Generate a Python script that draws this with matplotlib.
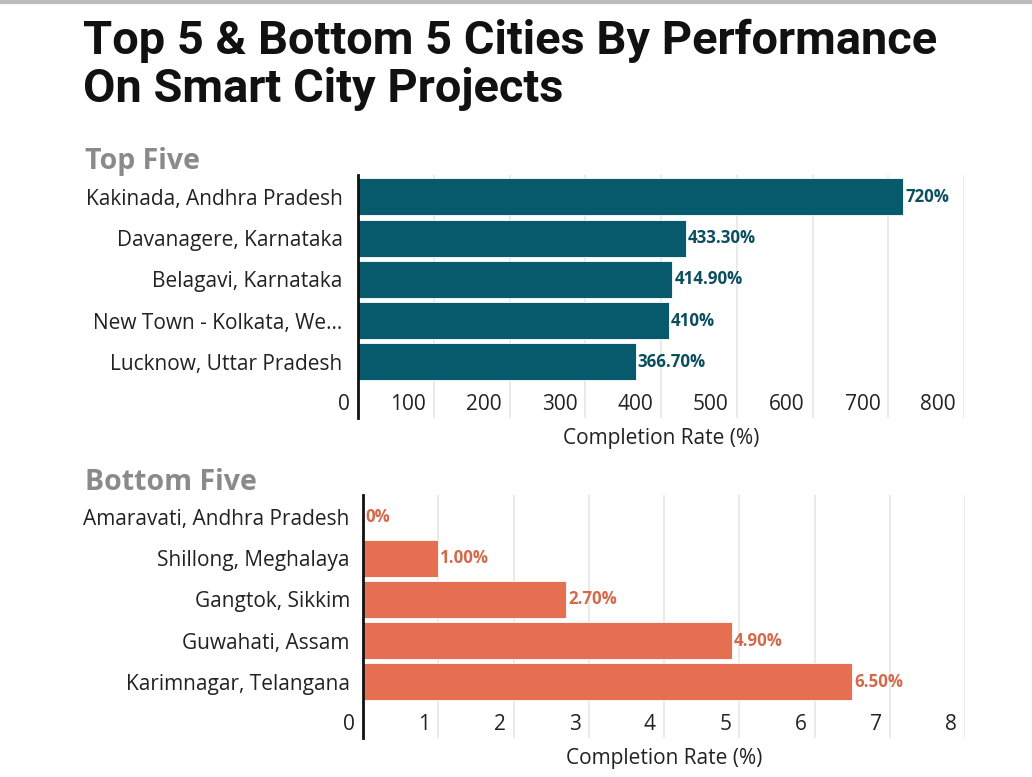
import matplotlib
matplotlib.use("Agg")
import matplotlib.pyplot as plt
from matplotlib.transforms import offset_copy

top_cities = ["Kakinada, Andhra Pradesh", "Davanagere, Karnataka", "Belagavi, Karnataka",
              "New Town - Kolkata, We...", "Lucknow, Uttar Pradesh"]
top_values = [720, 433.3, 414.9, 410, 366.7]
top_labels = ["720%", "433.30%", "414.90%", "410%", "366.70%"]
top_ticks = [0, 100, 200, 300, 400, 500, 600, 700, 800]

bottom_cities = ["Amaravati, Andhra Pradesh", "Shillong, Meghalaya", "Gangtok, Sikkim",
                 "Guwahati, Assam", "Karimnagar, Telangana"]
bottom_values = [0, 1.0, 2.7, 4.9, 6.5]
bottom_labels = ["0%", "1.00%", "2.70%", "4.90%", "6.50%"]
bottom_ticks = [0, 1, 2, 3, 4, 5, 6, 7, 8]

FONT = "Open Sans"
W, H = 1032, 777
fig = plt.figure(figsize=(W / 100, H / 100), dpi=100)
fig.patch.set_facecolor("white")

def px(x0, y0, x1, y1):
    return [x0 / W, 1 - y1 / H, (x1 - x0) / W, (y1 - y0) / H]

def panel(rect, cats, vals, labels, ticks, xmax, bar_color, label_color, ypad):
    ax = fig.add_axes(rect)
    y = list(range(len(cats)))
    ax.barh(y, vals, height=0.9, color=bar_color, edgecolor="white", linewidth=0.6, zorder=3)
    ax.set_ylim(5.36, -0.53)
    ax.set_xlim(0, xmax)
    ax.set_yticks(y)
    ax.set_yticklabels(cats, fontsize=15, family=FONT, color="#222222")
    ax.tick_params(axis="y", length=0, pad=ypad)
    ax.set_xticks(ticks)
    ax.set_xticklabels([])
    ax.tick_params(axis="x", length=0)
    ax.grid(axis="x", color="#e6e6e6", linewidth=1.2, zorder=0)
    for s in ["top", "right", "bottom"]:
        ax.spines[s].set_visible(False)
    ax.spines["left"].set_linewidth(2)
    ax.spines["left"].set_color("#111111")
    ax.spines["left"].set_zorder(5)
    tr = offset_copy(ax.transData, fig=fig, x=-8, y=0, units="dots")
    for t in ticks:
        ax.text(t, 5.03, f"{t}", transform=tr, ha="right", va="center",
                fontsize=15, family=FONT, color="#222222")
    tr2 = offset_copy(ax.transData, fig=fig, x=2, y=0, units="dots")
    for yi, v, lab in zip(y, vals, labels):
        ax.text(v, yi, lab, transform=tr2, ha="left", va="center", fontsize=12.2,
                fontweight="bold", family=FONT, color=label_color, zorder=4)
    ax.set_xlabel("Completion Rate (%)", fontsize=15, family=FONT, color="#222222", labelpad=4)
    return ax

ax1 = panel(px(358, 175, 964, 418), top_cities, top_values, top_labels, top_ticks, 800,
            "#075a6c", "#0b4f5f", 11)
ax2 = panel(px(363, 495, 965, 738), bottom_cities, bottom_values, bottom_labels, bottom_ticks, 8,
            "#e76f51", "#d4694b", 9.5)

fig.text(83 / W, 1 - 19 / H, "Top 5 & Bottom 5 Cities By Performance\nOn Smart City Projects",
         ha="left", va="top", fontsize=33.8, fontweight="bold", family="Roboto",
         color="#111111", linespacing=1.1)
fig.text(85 / W, 1 - 162 / H, "Top Five", ha="left", va="center", fontsize=20.5,
         fontweight="bold", family=FONT, color="#8a8a8a")
fig.text(85 / W, 1 - 483 / H, "Bottom Five", ha="left", va="center", fontsize=20.5,
         fontweight="bold", family=FONT, color="#8a8a8a")

fig.add_artist(plt.Line2D([0, 1], [1 - 2 / H, 1 - 2 / H], color="#bbbbbb", linewidth=3,
                          transform=fig.transFigure))

fig.savefig("out.png", dpi=100)
